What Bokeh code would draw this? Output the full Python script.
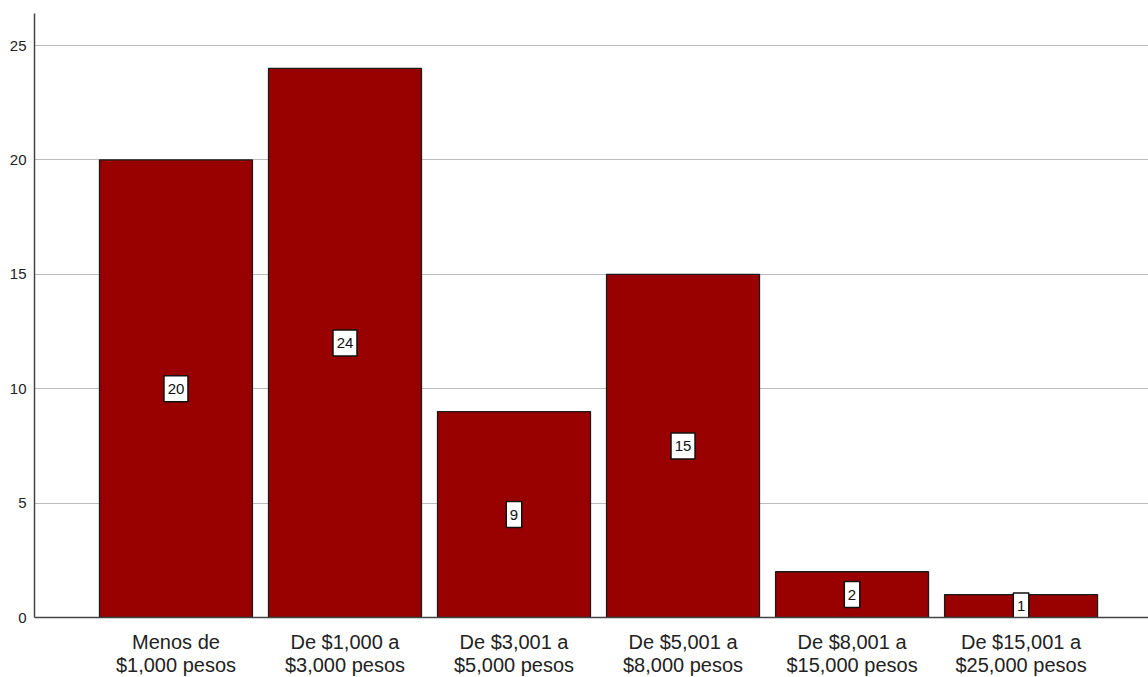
from bokeh.plotting import figure
from bokeh.models import ColumnDataSource, Range1d, FixedTicker
from bokeh.core.properties import value
from bokeh.embed import file_html
from bokeh.resources import INLINE

categories = ["Menos de\n$1,000 pesos", "De $1,000 a\n$3,000 pesos", "De $3,001 a\n$5,000 pesos",
              "De $5,001 a\n$8,000 pesos", "De $8,001 a\n$15,000 pesos", "De $15,001 a\n$25,000 pesos"]
counts = [20, 24, 9, 15, 2, 1]
y_ticks = [0, 5, 10, 15, 20, 25]

xs = list(range(len(categories)))
labs = [str(c) for c in counts]
src = ColumnDataSource(dict(x=xs, top=counts, mid=[c / 2 for c in counts], lab=labs,
                            bw=[7 + 8.5 * len(s) for s in labs]))

p = figure(frame_width=1114, frame_height=604, output_backend="svg", toolbar_location=None,
           x_range=Range1d(-0.837, 5.754), y_range=Range1d(0, 26.4),
           min_border_left=34, min_border_right=0, min_border_top=13, min_border_bottom=60)
p.outline_line_color = None

p.vbar(x="x", top="top", width=0.905, source=src, fill_color="#990000",
       line_color="#1a1a1a", line_width=1.3)

p.rect(x="x", y="mid", width="bw", height=26, width_units="screen", height_units="screen",
       source=src, fill_color="white", line_color="#111111", line_width=1.5)
p.text(x="x", y="mid", text="lab", source=src, text_align="center", text_baseline="middle",
       text_font=value("Liberation Sans"), text_font_size="15px", text_color="#111111")

p.xaxis.ticker = FixedTicker(ticks=xs)
p.xaxis.major_label_overrides = {i: c for i, c in enumerate(categories)}
p.xaxis.major_tick_line_color = None
p.xaxis.major_tick_out = 0
p.xaxis.major_tick_in = 0
p.xaxis.minor_tick_line_color = None
p.xaxis.major_label_text_font = "Liberation Sans"
p.xaxis.major_label_text_font_size = "20px"
p.xaxis.major_label_text_line_height = 1.05
p.xaxis.major_label_text_color = "#222222"
p.xaxis.major_label_standoff = 13
p.xaxis.axis_line_color = "#444444"
p.xaxis.axis_line_width = 1.5

p.yaxis.ticker = FixedTicker(ticks=y_ticks)
p.yaxis.major_tick_line_color = None
p.yaxis.major_tick_out = 0
p.yaxis.major_tick_in = 0
p.yaxis.minor_tick_line_color = None
p.yaxis.major_label_text_font = "Liberation Sans"
p.yaxis.major_label_text_font_size = "15px"
p.yaxis.major_label_text_color = "#222222"
p.yaxis.major_label_standoff = 8
p.yaxis.axis_line_color = "#444444"
p.yaxis.axis_line_width = 1.5

p.xgrid.grid_line_color = None
p.ygrid.ticker = FixedTicker(ticks=y_ticks[1:])
p.ygrid.grid_line_color = "#bdbdbd"
p.ygrid.grid_line_width = 1

open("out.html", "w").write(file_html(p, INLINE))
